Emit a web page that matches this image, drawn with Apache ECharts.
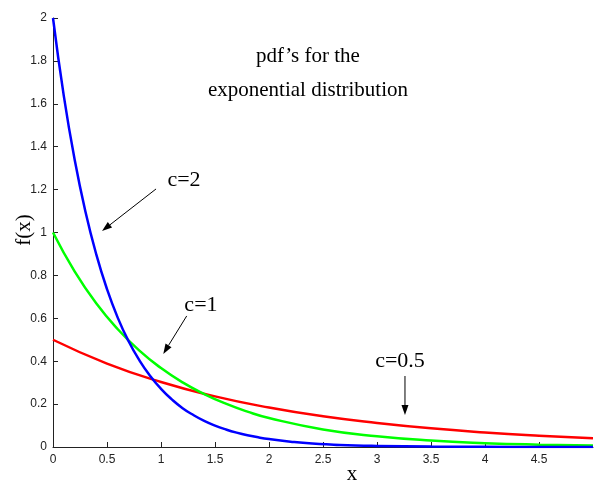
<!DOCTYPE html>
<html>
<head>
<meta charset="utf-8">
<script src="https://cdn.jsdelivr.net/npm/echarts@6/dist/echarts.min.js"></script>
<style>
  html, body { margin: 0; padding: 0; background: #fff; }
  #chart { width: 594px; height: 482px; }
</style>
</head>
<body>
<div id="chart"></div>
<script>
// Exponential pdfs f(x) = c·e^(−cx), sampled values
const xC2 = [0, 0.1, 0.2, 0.3, 0.4, 0.5, 0.6, 0.7, 0.8, 0.9, 1.0, 1.1, 1.2, 1.3, 1.4, 1.5, 1.6, 1.7, 1.8, 1.9, 2.0, 2.2, 2.4, 2.6, 2.8, 3.0, 3.5, 4.0, 4.5, 5.0];
const yC2 = [2.000, 1.637, 1.341, 1.098, 0.899, 0.736, 0.602, 0.493, 0.404, 0.331, 0.271, 0.222, 0.181, 0.149, 0.122, 0.100, 0.082, 0.067, 0.055, 0.045, 0.037, 0.025, 0.016, 0.011, 0.007, 0.005, 0.002, 0.001, 0.000, 0.000];

const xC1 = [0, 0.2, 0.4, 0.6, 0.8, 1.0, 1.2, 1.4, 1.6, 1.8, 2.0, 2.5, 3.0, 3.5, 4.0, 4.5, 5.0];
const yC1 = [1.000, 0.819, 0.670, 0.549, 0.449, 0.368, 0.301, 0.247, 0.202, 0.165, 0.135, 0.082, 0.050, 0.030, 0.018, 0.011, 0.007];

const xC05 = [0, 0.5, 1.0, 1.5, 2.0, 2.5, 3.0, 3.5, 4.0, 4.5, 5.0];
const yC05 = [0.500, 0.389, 0.303, 0.236, 0.184, 0.143, 0.112, 0.087, 0.068, 0.053, 0.041];

// Curve labels with their pointer arrows (data space)
const labelNames = ['c=2', 'c=1', 'c=0.5'];
const labelPos = [[1.213, 1.245], [1.370, 0.662], [3.213, 0.401]];
const arrowFrom = [[0.954, 1.203], [1.238, 0.611], [3.259, 0.331]];
const arrowTo = [[0.454, 1.007], [1.021, 0.434], [3.259, 0.149]];

const titleLines = ['pdf\u2019s for the', 'exponential distribution'];

const pair = (xs, ys) => xs.map((x, i) => [x, ys[i]]);
const serif = '"Liberation Serif", "DejaVu Serif", serif';
const sans = '"Liberation Sans", Arial, sans-serif';

const chart = echarts.init(document.getElementById('chart'), null, { renderer: 'canvas' });

const curve = (name, data, color) => ({
  name, type: 'line', data, smooth: true, showSymbol: false, symbol: 'none',
  lineStyle: { color, width: 2.5 }, animation: false, z: 3
});

chart.setOption({
  backgroundColor: '#ffffff',
  animation: false,
  grid: { left: 53, right: 1, top: 18, bottom: 35, containLabel: false },
  xAxis: {
    type: 'value', min: 0, max: 5, interval: 0.5,
    axisLine: { show: true, onZero: false, lineStyle: { color: '#222', width: 1 } },
    axisTick: { show: true, inside: true, length: 5, lineStyle: { color: '#222' } },
    axisLabel: { color: '#222', fontFamily: sans, fontSize: 12, margin: 7, showMaxLabel: false },
    splitLine: { show: false }
  },
  yAxis: {
    type: 'value', min: 0, max: 2, interval: 0.2,
    axisLine: { show: true, lineStyle: { color: '#222', width: 1 } },
    axisTick: { show: true, inside: true, length: 5, lineStyle: { color: '#222' } },
    axisLabel: { color: '#222', fontFamily: sans, fontSize: 12, margin: 6 },
    splitLine: { show: false }
  },
  series: [
    curve('c=0.5', pair(xC05, yC05), '#ff0000'),
    curve('c=1', pair(xC1, yC1), '#00ff00'),
    curve('c=2', pair(xC2, yC2), '#0000ff'),
    {
      name: 'labels', type: 'scatter', data: [], silent: true,
      markPoint: {
        silent: true, animation: false, symbol: 'circle', symbolSize: 0,
        label: {
          show: true, position: 'inside', color: '#000',
          fontFamily: serif, fontSize: 22,
          formatter: p => p.name
        },
        data: labelNames.map((n, i) => ({ name: n, coord: labelPos[i] }))
      }
    }
  ]
});

// Pointer arrows and free text, placed through the grid's coordinate system
const graphics = [];
arrowFrom.forEach((from, i) => {
  const a = chart.convertToPixel({ gridIndex: 0 }, from);
  const b = chart.convertToPixel({ gridIndex: 0 }, arrowTo[i]);
  const ang = Math.atan2(b[1] - a[1], b[0] - a[0]);
  const len = 10, half = 3.5;
  const bx = b[0] - len * Math.cos(ang), by = b[1] - len * Math.sin(ang);
  const px = -Math.sin(ang) * half, py = Math.cos(ang) * half;
  graphics.push({
    type: 'line', silent: true,
    shape: { x1: a[0], y1: a[1], x2: bx, y2: by },
    style: { stroke: '#000', lineWidth: 1 }
  });
  graphics.push({
    type: 'polygon', silent: true,
    shape: { points: [[b[0], b[1]], [bx + px, by + py], [bx - px, by - py]] },
    style: { fill: '#000' }
  });
});
graphics.push(
  {
    type: 'text', x: 308, y: 56,
    style: { text: titleLines[0], fill: '#000', font: '21px ' + serif, textAlign: 'center', textVerticalAlign: 'middle' }
  },
  {
    type: 'text', x: 308, y: 90,
    style: { text: titleLines[1], fill: '#000', font: '21px ' + serif, textAlign: 'center', textVerticalAlign: 'middle' }
  },
  {
    type: 'text', x: 24, y: 230, rotation: Math.PI / 2,
    style: { text: 'f(x)', fill: '#000', font: '21px ' + serif, textAlign: 'center', textVerticalAlign: 'middle' }
  },
  {
    type: 'text', x: 352, y: 474,
    style: { text: 'x', fill: '#000', font: '21px ' + serif, textAlign: 'center', textVerticalAlign: 'middle' }
  }
);
chart.setOption({ graphic: graphics });
</script>
</body>
</html>
